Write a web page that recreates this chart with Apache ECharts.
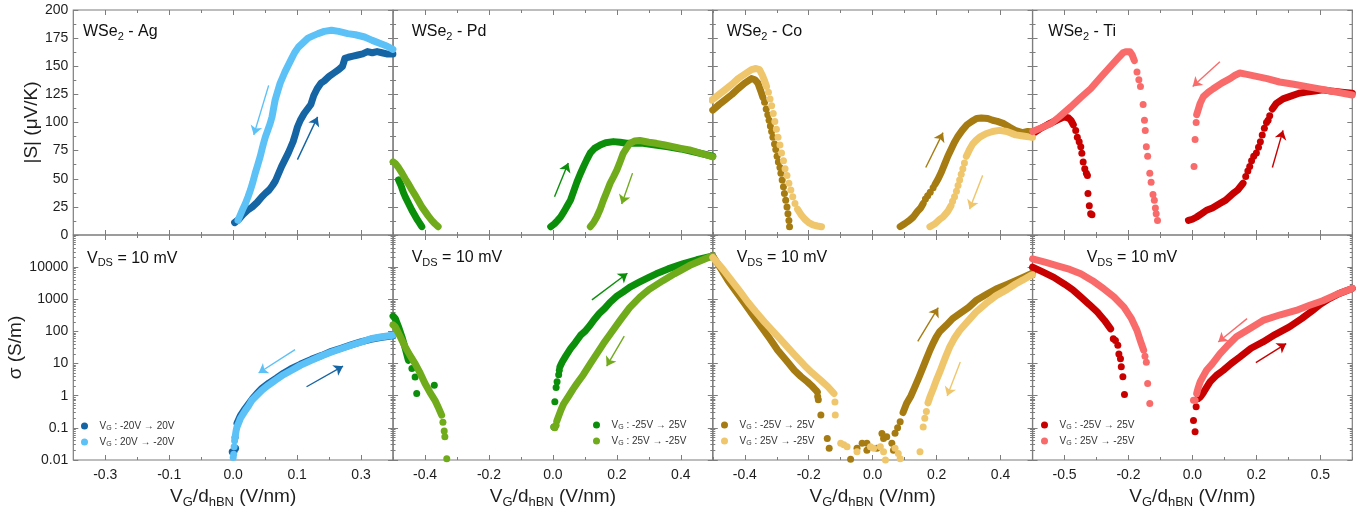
<!DOCTYPE html>
<html><head><meta charset="utf-8">
<script src="https://cdn.jsdelivr.net/npm/echarts@6/dist/echarts.min.js"></script>
<style>html,body{margin:0;padding:0;background:#fff}#c{width:1367px;height:515px}</style>
</head><body><div id="c"></div>
<script>
// ---------- tick labels / axes ----------
const xTicksAg = [-0.26667, -0.13333, 0, 0.13333, 0.26667];
const xTicksPd = [-0.4, -0.2, 0, 0.2, 0.4];
const xTicksCo = [-0.4, -0.2, 0, 0.2, 0.4];
const xTicksTi = [-0.48, -0.24, 0, 0.24, 0.48];
const sTicks = [0, 25, 50, 75, 100, 125, 150, 175, 200];
const sigTicks = [0.01, 0.1, 1, 10, 100, 1000, 10000];
const legendAg = ['-20V \u2192 20V', '20V \u2192 -20V'];
const legendVg = ['-25V \u2192 25V', '25V \u2192 -25V'];

// ---------- WSe2 - Ag ----------
const agS_up = [[0.003,11],[0.012,14],[0.02,18],[0.03,22],[0.04,25],[0.05,29],[0.06,34],[0.067,37],[0.075,40],[0.082,44],[0.088,48],[0.095,55],[0.101,61],[0.108,67],[0.115,73],[0.12,78],[0.125,83],[0.13,90],[0.134,96],[0.14,102],[0.148,108],[0.155,112],[0.162,116],[0.168,124],[0.175,130],[0.183,135],[0.19,137],[0.2,141],[0.21,144],[0.22,147],[0.228,150],[0.233,157],[0.24,158],[0.25,159],[0.26,160],[0.27,161],[0.28,163],[0.29,162],[0.3,163],[0.31,162],[0.32,161],[0.333,161]];
const agS_dn = [[0.333,165],[0.32,168],[0.308,170],[0.29,173],[0.274,176],[0.255,178],[0.239,179],[0.22,181],[0.205,182],[0.19,181],[0.177,179],[0.166,177],[0.156,175],[0.146,171],[0.136,167],[0.128,162],[0.122,157],[0.115,151],[0.108,145],[0.103,140],[0.098,135],[0.093,128],[0.0875,120],[0.084,112],[0.081,105],[0.077,99],[0.072,93],[0.067,87],[0.063,81],[0.06,76],[0.0565,70],[0.051,62],[0.046,55],[0.041,47],[0.036,40],[0.031,34],[0.0255,28],[0.02,23],[0.015,18],[0.01,13]];
const agSig_up = [[0.008,0.14],[0.015,0.24],[0.025,0.4],[0.04,0.8],[0.05,1.2],[0.06,1.7],[0.075,2.5],[0.09,3.5],[0.105,5],[0.12,6.8],[0.14,9.5],[0.163,13.5],[0.185,18],[0.205,24],[0.225,30],[0.246,38],[0.266,47],[0.287,57],[0.307,65],[0.333,73]];
const agSig_up_dots = [[-0.002,0.018],[0.002,0.019],[0.005,0.023],[0.004,0.05]];
const agSig_dn = [[0.004,0.05],[0.006,0.08],[0.008,0.107],[0.012,0.15],[0.015,0.195],[0.02,0.26],[0.0255,0.35],[0.032,0.48],[0.039,0.72],[0.05,1.05],[0.06,1.48],[0.073,2.1],[0.0875,3.0],[0.105,4.5],[0.122,6.2],[0.14,8.8],[0.163,12.6],[0.185,17.5],[0.205,23],[0.225,29],[0.246,37],[0.266,46],[0.287,59],[0.307,67],[0.333,76]];
const agSig_dn_dots = [[0.0,0.012],[0.001,0.015],[0.002,0.026],[0.003,0.04]];
const agS_arrows = [[[0.134,67],[0.176,105],0],[[0.074,133],[0.043,89],1]];
const agSig_arrows = [[[0.153,1.9],[0.229,8.3],0],[[0.129,27],[0.053,5.1],1]];

// ---------- WSe2 - Pd ----------
const pdS_up_L = [[-0.483,49],[-0.475,44],[-0.468,38],[-0.462,34],[-0.455,30],[-0.448,26],[-0.441,22],[-0.433,18],[-0.425,14],[-0.418,11],[-0.41,7.4]];
const pdS_up_R = [[-0.007,7.4],[0.005,10],[0.015,13],[0.024,16],[0.035,21],[0.045,26],[0.055,31],[0.065,39],[0.075,47],[0.085,54],[0.096,61],[0.106,67],[0.117,73],[0.13,77],[0.148,80],[0.165,82],[0.189,83],[0.21,82.5],[0.23,81.5],[0.26,81.5],[0.282,81.5],[0.32,80],[0.36,78.5],[0.4,76.5],[0.44,74],[0.47,72],[0.5,70]];
const pdS_dn_L = [[-0.5,65],[-0.493,63.5],[-0.483,60],[-0.472,55],[-0.462,50],[-0.451,45],[-0.441,40],[-0.43,35],[-0.42,30],[-0.41,25],[-0.4,21],[-0.39,17],[-0.379,13],[-0.369,10],[-0.359,7.4]];
const pdS_dn_R = [[0.5,69.5],[0.47,72],[0.44,74.5],[0.427,75.6],[0.4,77],[0.375,78.5],[0.35,80],[0.323,81.5],[0.3,82.5],[0.272,84],[0.255,83.5],[0.241,81.5],[0.23,77],[0.22,72.6],[0.21,65],[0.2,57.8],[0.19,52],[0.179,46],[0.168,38],[0.158,31],[0.148,23],[0.137,16],[0.127,11],[0.117,7.4]];
const pdSig_up_L = [[-0.5,300],[-0.493,250],[-0.483,140],[-0.472,67],[-0.462,30],[-0.452,12.6]];
const pdSig_up_R = [[0.022,8],[0.029,11.2],[0.04,17],[0.055,29],[0.07,45],[0.086,75],[0.1,100],[0.115,150],[0.127,220],[0.145,360],[0.162,520],[0.179,810],[0.2,1250],[0.22,1700],[0.241,2400],[0.27,3400],[0.3,4800],[0.323,6200],[0.36,8800],[0.406,12600],[0.45,17000],[0.494,21400],[0.5,22000]];
const pdSig_up_dots = [[-0.441,7],[-0.431,3.8],[-0.426,1.17],[-0.371,2.1],[0.003,0.107],[0.006,0.65],[0.01,1.8],[0.013,2.7],[0.018,4.5],[0.02,6.2]];
const pdSig_dn_L = [[-0.5,160],[-0.493,138],[-0.478,70],[-0.462,33],[-0.447,18],[-0.431,10],[-0.415,5],[-0.4,2.4],[-0.385,1.3],[-0.369,0.72],[-0.358,0.42],[-0.348,0.25]];
const pdSig_dn_R = [[0.012,0.16],[0.019,0.25],[0.026,0.38],[0.034,0.57],[0.05,1.0],[0.063,1.6],[0.075,2.4],[0.095,4.5],[0.117,10],[0.137,20],[0.158,42],[0.18,85],[0.21,220],[0.24,550],[0.272,1170],[0.3,2000],[0.344,3800],[0.38,6200],[0.427,11200],[0.46,15500],[0.494,21400],[0.5,22000]];
const pdSig_dn_dots = [[-0.344,0.15],[-0.34,0.08],[-0.338,0.053],[-0.332,0.011],[0.003,0.107],[0.006,0.1],[0.01,0.12]];
const pdS_arrows = [[[0.005,34],[0.048,64],0],[[0.249,55],[0.215,27.6],1]];
const pdSig_arrows = [[[0.122,955],[0.233,6450],0],[[0.223,71],[0.168,8.3],1]];

// ---------- WSe2 - Co ----------
const coS_up_L = [[-0.5,111],[-0.48,116],[-0.462,120],[-0.44,125],[-0.421,130],[-0.4,135],[-0.379,139],[-0.368,138],[-0.359,135],[-0.35,128],[-0.343,122]];
const coS_up_R1 = [[0.086,7.4],[0.1,10],[0.115,13],[0.127,16],[0.14,21],[0.15,24],[0.158,28]];
const coS_up_R2 = [[0.195,45],[0.205,50],[0.215,56],[0.225,63],[0.235,70],[0.245,76],[0.255,82],[0.265,87],[0.28,93],[0.295,98],[0.31,101],[0.325,103.5],[0.34,104],[0.36,103.5],[0.375,102],[0.39,101],[0.41,99],[0.427,96],[0.445,93],[0.468,91],[0.485,92],[0.5,91.5]];
const coS_up_dots = [[-0.338,118],[-0.333,112],[-0.328,107],[-0.324,102],[-0.32,97],[-0.316,92],[-0.312,87],[-0.307,81],[-0.303,76],[-0.299,70],[-0.295,65],[-0.29,60],[-0.287,55],[-0.283,49],[-0.279,43],[-0.276,37],[-0.272,31],[-0.268,25],[-0.265,19],[-0.262,13],[-0.26,7.4],[0.165,32],[0.172,35],[0.18,38],[0.189,42]];
const coS_dn_L = [[-0.503,120],[-0.48,125],[-0.462,129],[-0.44,134],[-0.421,139],[-0.4,143],[-0.379,147],[-0.365,148],[-0.354,147],[-0.345,142],[-0.338,137],[-0.332,132]];
const coS_dn_L2 = [[-0.235,23],[-0.224,18],[-0.212,14],[-0.2,11],[-0.187,9],[-0.173,8],[-0.16,7.4]];
const coS_dn_R1 = [[0.179,7.4],[0.195,10],[0.21,14],[0.22,16],[0.235,21],[0.245,26]];
const coS_dn_R2 = [[0.293,70],[0.303,76],[0.313,81],[0.323,84],[0.335,87],[0.354,90],[0.375,92],[0.396,93],[0.42,92],[0.447,89],[0.47,88],[0.494,87],[0.5,87]];
const coS_dn_dots = [[-0.326,127],[-0.321,121],[-0.316,115],[-0.311,108],[-0.306,101],[-0.301,94],[-0.296,87],[-0.29,80],[-0.285,73],[-0.279,66],[-0.274,59],[-0.268,53],[-0.262,46],[-0.256,40],[-0.25,34],[-0.243,28],[0.25,30],[0.256,34],[0.262,39],[0.267,44],[0.272,49],[0.277,54],[0.282,59],[0.287,64]];
const coSig_up_L = [[-0.5,22000],[-0.475,9000],[-0.452,3800],[-0.426,1650],[-0.4,724],[-0.374,315],[-0.348,138],[-0.322,60],[-0.297,26],[-0.27,12.5],[-0.245,6.2],[-0.225,4],[-0.204,2.7],[-0.19,2],[-0.178,1.5],[-0.173,1.3]];
const coSig_up_R = [[0.095,0.3],[0.106,0.57],[0.12,1.0],[0.132,1.9],[0.145,3.8],[0.158,7.9],[0.168,14],[0.179,26],[0.19,45],[0.199,68],[0.21,100],[0.23,155],[0.25,250],[0.272,355],[0.3,560],[0.323,910],[0.355,1400],[0.386,2100],[0.42,2900],[0.447,3800],[0.47,4800],[0.494,6200],[0.5,6500]];
const coSig_up_dots = [[-0.172,0.95],[-0.17,0.75],[-0.162,0.25],[-0.142,0.047],[-0.136,0.023],[-0.069,0.0105],[-0.049,0.023],[-0.033,0.033],[-0.018,0.033],[-0.018,0.02],[0.013,0.023],[0.029,0.067],[0.034,0.047],[0.044,0.053],[0.06,0.033],[0.065,0.02],[0.07,0.068],[0.078,0.1],[0.086,0.155]];
const coSig_dn_L = [[-0.5,20000],[-0.47,9000],[-0.441,3800],[-0.415,1750],[-0.39,810],[-0.365,400],[-0.338,195],[-0.307,90],[-0.276,42],[-0.245,19],[-0.214,8.9],[-0.19,5.2],[-0.162,3],[-0.14,1.9],[-0.121,1.17]];
const coSig_dn_R = [[0.173,0.6],[0.179,0.91],[0.19,1.7],[0.199,3],[0.21,5.5],[0.22,10],[0.23,18],[0.241,33],[0.255,60],[0.272,107],[0.3,220],[0.323,400],[0.355,750],[0.386,1300],[0.42,2000],[0.447,3000],[0.47,4000],[0.494,5500],[0.5,5800]];
const coSig_dn_dots = [[-0.118,0.64],[-0.117,0.25],[-0.1,0.033],[-0.09,0.03],[-0.08,0.026],[-0.049,0.018],[-0.007,0.026],[0.003,0.023],[0.024,0.026],[0.034,0.018],[0.04,0.01],[0.07,0.023],[0.08,0.016],[0.086,0.011],[0.148,0.018],[0.158,0.107],[0.163,0.2],[0.168,0.32]];
const coS_arrows = [[[0.166,60],[0.22,91],0],[[0.344,53],[0.303,23],1]];
const coSig_arrows = [[[0.141,49],[0.205,550],0],[[0.274,11.2],[0.233,0.98],1]];

// ---------- WSe2 - Ti ----------
const tiS_up_L = [[-0.6,90],[-0.575,94],[-0.544,98],[-0.51,102],[-0.481,105],[-0.465,104],[-0.456,102],[-0.447,98]];
const tiS_up_R1 = [[-0.015,13],[0.0,14],[0.016,16],[0.035,19],[0.053,22],[0.075,24],[0.103,28],[0.125,31],[0.153,37],[0.17,40],[0.19,46]];
const tiS_up_R2 = [[0.3,112],[0.315,117],[0.34,121],[0.364,123],[0.4,126],[0.427,127],[0.46,128],[0.489,129],[0.52,128],[0.56,127],[0.6,126]];
const tiS_up_dots = [[-0.438,93],[-0.432,87],[-0.425,83],[-0.419,78.5],[-0.415,72.6],[-0.41,65],[-0.404,59],[-0.398,55],[-0.394,53],[-0.392,37],[-0.387,26],[-0.382,19],[-0.377,18],[0.2,52],[0.208,57],[0.215,61],[0.222,66],[0.23,70],[0.24,73],[0.248,78],[0.255,83],[0.262,89],[0.27,95],[0.278,100],[0.284,102],[0.29,106]];
const tiS_dn_L = [[-0.6,92],[-0.57,95],[-0.531,99],[-0.5,105],[-0.456,114],[-0.42,122],[-0.382,130],[-0.345,140],[-0.307,150],[-0.28,157],[-0.26,162],[-0.25,163],[-0.235,163],[-0.226,160],[-0.218,155]];
const tiS_dn_R = [[0.016,107],[0.029,117],[0.041,123],[0.06,127],[0.078,130],[0.11,135],[0.141,139],[0.16,142],[0.178,144],[0.2,143],[0.24,141],[0.28,139],[0.327,136],[0.38,134],[0.451,131],[0.52,128],[0.6,124.5]];
const tiS_dn_dots = [[-0.208,145],[-0.201,138],[-0.195,132],[-0.185,116],[-0.18,102],[-0.177,93],[-0.173,78.5],[-0.168,70],[-0.16,55],[-0.155,47],[-0.148,36],[-0.143,31],[-0.139,24],[-0.136,19],[-0.131,13],[0.006,61],[0.01,85],[0.014,100]];
const tiSig_up_L = [[-0.6,10000],[-0.56,7000],[-0.52,4800],[-0.481,3000],[-0.45,2000],[-0.419,1180],[-0.388,700],[-0.357,400],[-0.33,220],[-0.307,120]];
const tiSig_up_R = [[0.029,0.91],[0.04,1.2],[0.047,1.5],[0.066,2.7],[0.09,4.3],[0.116,6.2],[0.145,10],[0.178,16],[0.22,30],[0.265,47],[0.31,80],[0.364,138],[0.41,250],[0.451,450],[0.48,700],[0.514,1050],[0.55,1500],[0.595,2100],[0.6,2200]];
const tiSig_up_dots = [[-0.297,59],[-0.289,52],[-0.28,37],[-0.276,20],[-0.27,14],[-0.267,7.9],[-0.261,3.9],[-0.255,1.1],[0.01,0.076],[0.004,0.17],[0.014,0.45],[0.02,0.8]];
const tiSig_dn_L = [[-0.6,18000],[-0.55,14000],[-0.506,11000],[-0.46,8500],[-0.419,6200],[-0.375,3800],[-0.332,2100],[-0.295,1200],[-0.257,570],[-0.23,260],[-0.208,107],[-0.195,50],[-0.183,26]];
const tiSig_dn_R = [[0.016,1.17],[0.022,1.8],[0.029,2.7],[0.04,4],[0.053,6.2],[0.075,10],[0.103,20],[0.13,35],[0.165,68],[0.21,115],[0.265,220],[0.33,330],[0.389,450],[0.44,650],[0.489,900],[0.54,1400],[0.595,2100],[0.6,2200]];
const tiSig_dn_dots = [[-0.178,17],[-0.173,11],[-0.168,2.4],[-0.16,0.57],[0.004,0.72],[0.01,0.72]];
const tiS_arrows = [[[0.3,60],[0.34,93],0],[[0.103,154],[0.001,132],1]];
const tiSig_arrows = [[[0.238,10.7],[0.352,42],0],[[0.205,250],[0.097,47],1]];

// ---------- assembly ----------
const FONT = "'Liberation Sans', Arial, Helvetica, sans-serif";
const GRAY = '#7d7d7d', TXT = '#1e1e1e';
const panels = [
  {metal:'Ag', range:0.33333, ticks:xTicksAg, legend:legendAg, colors:['#1564a3','#5cc1f7'],
   legendPos:[81,421], labelPos:[83,22], vdsPos:[87,248.5],
   S:{up:{bands:[agS_up],dots:[]}, dn:{bands:[agS_dn],dots:[]}, arrows:agS_arrows},
   Sig:{up:{bands:[agSig_up],dots:[agSig_up_dots]}, dn:{bands:[agSig_dn],dots:[agSig_dn_dots]}, arrows:agSig_arrows}},
  {metal:'Pd', range:0.5, ticks:xTicksPd, legend:legendVg, colors:['#0b8f0b','#70ab1c'],
   legendPos:[593,420], labelPos:[411.7,22], vdsPos:[411.7,248],
   S:{up:{bands:[pdS_up_L,pdS_up_R],dots:[]}, dn:{bands:[pdS_dn_L,pdS_dn_R],dots:[]}, arrows:pdS_arrows},
   Sig:{up:{bands:[pdSig_up_L,pdSig_up_R],dots:[pdSig_up_dots]}, dn:{bands:[pdSig_dn_L,pdSig_dn_R],dots:[pdSig_dn_dots]}, arrows:pdSig_arrows}},
  {metal:'Co', range:0.5, ticks:xTicksCo, legend:legendVg, colors:['#a67c12','#efc66c'],
   legendPos:[721,420], labelPos:[726.7,22], vdsPos:[736.7,248],
   S:{up:{bands:[coS_up_L,coS_up_R1,coS_up_R2],dots:[coS_up_dots]}, dn:{bands:[coS_dn_L,coS_dn_L2,coS_dn_R1,coS_dn_R2],dots:[coS_dn_dots]}, arrows:coS_arrows},
   Sig:{up:{bands:[coSig_up_L,coSig_up_R],dots:[coSig_up_dots]}, dn:{bands:[coSig_dn_L,coSig_dn_R],dots:[coSig_dn_dots]}, arrows:coSig_arrows}},
  {metal:'Ti', range:0.6, ticks:xTicksTi, legend:legendVg, colors:['#c90000','#f96b6b'],
   legendPos:[1041,420], labelPos:[1048.3,22], vdsPos:[1086.7,248],
   S:{up:{bands:[tiS_up_L,tiS_up_R1,tiS_up_R2],dots:[tiS_up_dots]}, dn:{bands:[tiS_dn_L,tiS_dn_R],dots:[tiS_dn_dots]}, arrows:tiS_arrows},
   Sig:{up:{bands:[tiSig_up_L,tiSig_up_R],dots:[tiSig_up_dots]}, dn:{bands:[tiSig_dn_L,tiSig_dn_R],dots:[tiSig_dn_dots]}, arrows:tiSig_arrows}}
];

const L0 = 73.3, PW = 319.75;
const ROWS = [{top:10, h:225}, {top:235, h:225}];
const grids = [], xAxes = [], yAxes = [], series = [], legends = [], titles = [];
const logMinor = [];
for (let d = -2; d <= 4; d++) for (let k = 2; k <= 9; k++) logMinor.push(Number((k * Math.pow(10, d)).toPrecision(3)));
const sigMajor = sigTicks.concat([100000]);

const tickStyle = {color: GRAY, width: 1};
const noLine = {show:false, onZero:false};
function xAx(gi, p, pos, vals, len, lab, name) {
  return {type:'value', gridIndex:gi, position:pos, min:-p.range, max:p.range,
    axisLine:noLine, splitLine:{show:false},
    axisTick:{show:true, inside:true, length:len, customValues:vals, lineStyle:tickStyle},
    axisLabel:{show:!!lab, customValues:vals, formatter:v => v.toFixed(1), fontSize:14, color:TXT, margin:8, fontFamily:FONT},
    name: name || '', nameLocation:'middle', nameGap:25,
    nameTextStyle:{rich:{a:{fontSize:19, lineHeight:24, color:TXT, fontFamily:FONT}, s:{fontSize:13, lineHeight:13, verticalAlign:'bottom', color:TXT, fontFamily:FONT}}}};
}
function yAxLin(gi, pos, lab, name) {
  return {type:'value', gridIndex:gi, position:pos, min:0, max:200, interval:25,
    axisLine:noLine, splitLine:{show:false},
    axisTick:{show:true, inside:true, length:5, lineStyle:tickStyle},
    minorTick:{show:true, splitNumber:2, length:3, lineStyle:tickStyle},
    axisLabel:{show:!!lab, fontSize:14, color:TXT, margin:5, fontFamily:FONT},
    name:name || '', nameLocation:'middle', nameRotate:90, nameGap:32,
    nameTextStyle:{fontSize:19, color:TXT, fontFamily:FONT}};
}
function yAxLog(gi, pos, vals, len, lab, name) {
  return {type:'log', logBase:10, gridIndex:gi, position:pos, min:0.01, max:100000,
    axisLine:noLine, splitLine:{show:false},
    axisTick:{show:true, inside:true, length:len, customValues:vals, lineStyle:tickStyle},
    axisLabel:{show:!!lab, customValues:sigTicks, fontSize:14, color:TXT, margin:5, fontFamily:FONT,
      formatter:v => v >= 1 ? String(Math.round(v)) : String(Number(v.toPrecision(3)))},
    name:name || '', nameLocation:'middle', nameRotate:90, nameGap:44,
    nameTextStyle:{fontSize:19, color:TXT, fontFamily:FONT}};
}

const xName = '{a|V}{s|G}{a|/d}{s|hBN}{a| (V/nm)}';
const subRich = (fs, sfs, lh) => ({a:{fontSize:fs, lineHeight:lh, color:'#111', fontWeight:'normal', fontFamily:FONT},
                                  s:{fontSize:sfs, lineHeight:Math.round(lh*0.6), verticalAlign:'bottom', fontWeight:'normal', color:'#111', fontFamily:FONT}});

panels.forEach((p, c) => {
  const step = p.ticks[1] - p.ticks[0];
  const minors = p.ticks.map(v => v - step / 2).concat([p.ticks[p.ticks.length - 1] + step / 2]);
  ['S', 'Sig'].forEach((key, r) => {
    const gi = grids.length;
    grids.push({left:L0 + c * PW, top:ROWS[r].top, width:PW, height:ROWS[r].h, show:true,
      borderColor:GRAY, borderWidth:1.2, backgroundColor:'transparent'});
    const xi = xAxes.length;
    xAxes.push(xAx(gi, p, 'bottom', p.ticks, 5, r === 1, r === 1 ? xName : ''));
    xAxes.push(xAx(gi, p, 'bottom', minors, 3, false));
    xAxes.push(xAx(gi, p, 'top', p.ticks, 5, false));
    xAxes.push(xAx(gi, p, 'top', minors, 3, false));
    const yi = yAxes.length;
    if (r === 0) {
      yAxes.push(yAxLin(gi, 'left', c === 0, c === 0 ? '|S| (\u03bcV/K)' : ''));
      yAxes.push(yAxLin(gi, 'right', false));
    } else {
      yAxes.push(yAxLog(gi, 'left', sigMajor, 5, c === 0, c === 0 ? '\u03c3 (S/m)' : ''));
      yAxes.push(yAxLog(gi, 'left', logMinor, 2.5, false));
      yAxes.push(yAxLog(gi, 'right', sigMajor, 5, false));
      yAxes.push(yAxLog(gi, 'right', logMinor, 2.5, false));
    }
    const block = p[key];
    ['up', 'dn'].forEach((dir, di) => {
      const color = p.colors[di];
      const name = p.metal + '-' + dir;
      const arrows = block.arrows.filter(a => a[2] === di).map(a => [{coord:a[0]}, {coord:a[1]}]);
      block[dir].bands.forEach((data) => {
        series.push({type:'line', name, xAxisIndex:xi, yAxisIndex:yi, data, showSymbol:false, symbol:'circle',
          lineStyle:{width:7, color, cap:'round', join:'round'}, itemStyle:{color}, clip:false, silent:true,
          animation:false, z:2 + di, emphasis:{disabled:true}});
      });
      block[dir].dots.forEach(data => {
        series.push({type:'scatter', name, xAxisIndex:xi, yAxisIndex:yi, data, symbolSize:7,
          itemStyle:{color, opacity:1}, clip:false, silent:true, animation:false, z:2 + di, emphasis:{disabled:true}});
      });
      if (arrows.length) {
        series.push({type:'scatter', name:'arrow-' + name, xAxisIndex:xi, yAxisIndex:yi, data:[], silent:true,
          animation:false, z:5, itemStyle:{color},
          markLine:{silent:true, animation:false, symbol:['none', 'arrow'], symbolSize:9,
            itemStyle:{color}, lineStyle:{color, width:1.4, type:'solid'}, label:{show:false},
            emphasis:{disabled:true}, data:arrows}});
      }
    });
  });
  titles.push({left:p.labelPos[0], top:p.labelPos[1], padding:0,
    text:'{a|WSe}{s|2}{a| - ' + p.metal + '}', textStyle:{fontWeight:'normal', rich:subRich(16, 11, 20)}});
  titles.push({left:p.vdsPos[0], top:p.vdsPos[1], padding:0,
    text:'{a|V}{s|DS}{a| = 10 mV}', textStyle:{fontWeight:'normal', rich:subRich(16, 11, 20)}});
  const names = [p.metal + '-up', p.metal + '-dn'];
  legends.push({left:p.legendPos[0], top:p.legendPos[1], orient:'vertical', itemWidth:20, itemHeight:7, itemGap:5,
    selectedMode:false, padding:0,
    data:names.map((n, i) => ({name:n, icon:'circle', itemStyle:{color:p.colors[i]}})),
    formatter:n => '{a|V}{s|G}{a| : ' + p.legend[names.indexOf(n)] + '}',
    textStyle:{rich:{a:{fontSize:10, lineHeight:12, color:'#333', fontFamily:FONT},
                     s:{fontSize:7, lineHeight:7, verticalAlign:'bottom', color:'#333', fontFamily:FONT}}}});
});

const chart = echarts.init(document.getElementById('c'), null, {renderer:'canvas'});
chart.setOption({animation:false, backgroundColor:'#fff', title:titles, legend:legends,
  grid:grids, xAxis:xAxes, yAxis:yAxes, series});
</script></body></html>
